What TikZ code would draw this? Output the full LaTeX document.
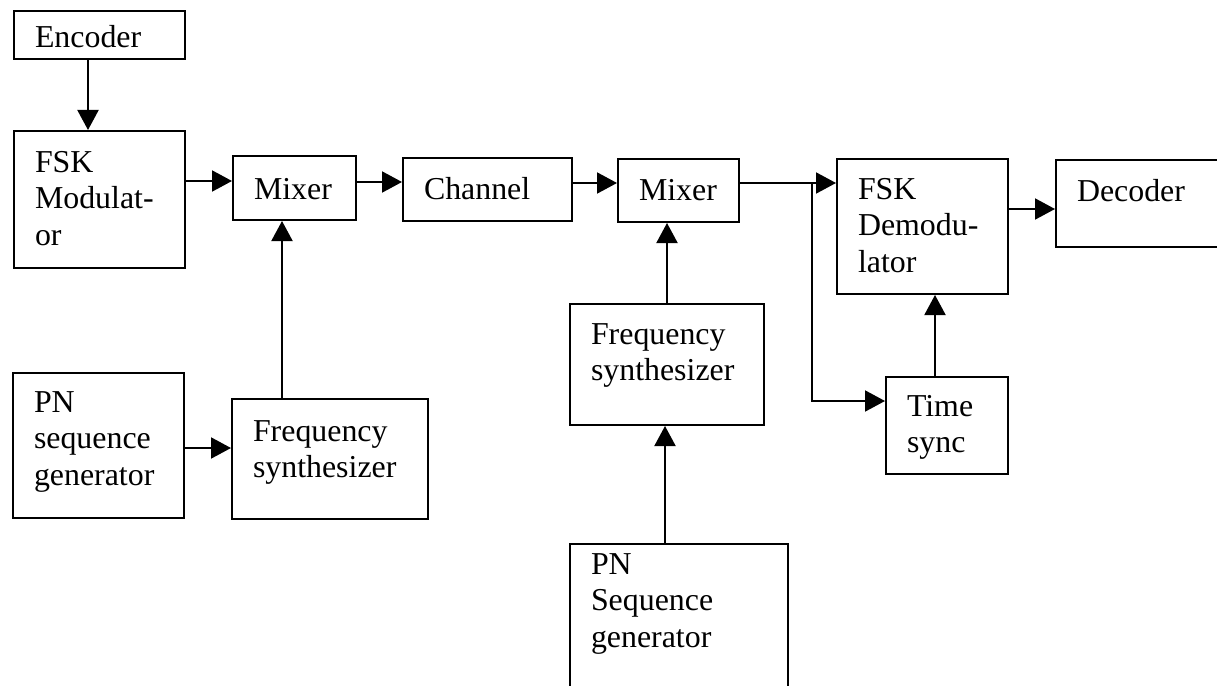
\documentclass[tikz,border=0pt]{standalone}
\usepackage{fontspec}
\setmainfont{Liberation Serif}
\usetikzlibrary{arrows.meta}

\begin{document}
\begin{tikzpicture}[x=1bp,y=-1bp,
	blk/.style={draw, line width=2bp, anchor=north west, align=left, inner xsep=21bp, inner ysep=0pt, font=\fontsize{32}{36.7}\selectfont},
	arr/.style={-{Triangle[length=20bp,width=21bp]}, line width=2bp}]

	%page frame
	\useasboundingbox (0,0) rectangle (1217,686);

	%blocks, top row
	\node[blk, text width=129bp, text height=37bp, text depth=11bp] (enc) at (13,10) {Encoder};
	\node[blk, text width=129bp, text height=41bp, text depth=96bp] (fskmod) at (13,130) {FSK\\Modulat-\\or};
	\node[blk, text width=81bp, text height=43bp, text depth=21bp] (mix1) at (232,155) {Mixer};
	\node[blk, text width=127bp, text height=41bp, text depth=22bp] (chan) at (402,157) {Channel};
	\node[blk, text width=79bp, text height=41bp, text depth=22bp] (mix2) at (617,158) {Mixer};
	\node[blk, text width=129bp, text height=40bp, text depth=95bp] (fskdem) at (836,158) {FSK\\Demodu-\\lator};
	\node[blk, text width=129bp, text height=41bp, text depth=46bp] (dec) at (1055,159) {Decoder};

	%blocks, lower part
	\node[blk, text width=129bp, text height=39bp, text depth=106bp] (pn1) at (12,372) {PN\\sequence\\generator};
	\node[blk, text width=154bp, text height=42bp, text depth=78bp] (fs1) at (231,398) {Frequency\\synthesizer};
	\node[blk, text width=152bp, text height=40bp, text depth=81bp] (fs2) at (569,303) {Frequency\\synthesizer};
	\node[blk, text width=176bp, text height=30bp, text depth=130bp] (pn2) at (569,543) {PN\\Sequence\\generator};
	\node[blk, text width=80bp, text height=39bp, text depth=58bp] (tsync) at (885,376) {Time\\sync};

	%transmitter
	\draw[arr] ([xshift=-11.5bp]enc.south) -- ([xshift=-11.5bp]fskmod.north);
	\draw[arr] ([yshift=7bp]mix1.west -| fskmod.east) -- ([yshift=7bp]mix1.west);
	\draw[arr] ([yshift=-2.5bp]pn1.east) -- ([yshift=-2.5bp]pn1.east -| fs1.west);
	\draw[arr] ([xshift=-48bp]fs1.north) -- ([xshift=-48bp]fs1.north |- mix1.south);
	\draw[arr] ([yshift=6bp]mix1.east) -- ([yshift=6bp]mix1.east -| chan.west);

	%receiver
	\draw[arr] ([yshift=6.5bp]chan.east) -- ([yshift=6.5bp]chan.east -| mix2.west);
	\draw[arr] ([xshift=-14bp]pn2.north) -- ([xshift=-14bp]pn2.north |- fs2.south);
	\draw[arr] (fs2.north) -- (fs2.north |- mix2.south);
	\draw[arr] ([yshift=7.5bp]mix2.east) -- coordinate[pos=0.745] (tap) ([yshift=7.5bp]mix2.east -| fskdem.west);
	\draw[arr] (tap) |- ([yshift=24.5bp]tsync.west);
	\draw[arr] ([xshift=-12bp]tsync.north) -- ([xshift=-12bp]tsync.north |- fskdem.south);
	\draw[arr] ([yshift=17.5bp]fskdem.east) -- ([yshift=17.5bp]fskdem.east -| dec.west);

\end{tikzpicture}
\end{document}
